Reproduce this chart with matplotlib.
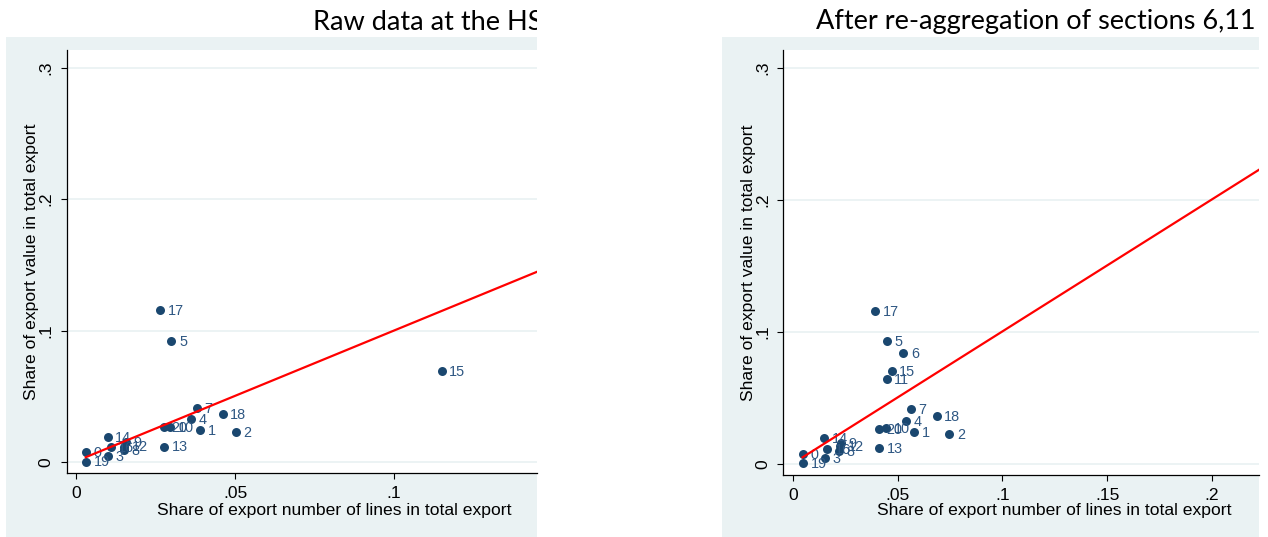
import numpy as np
import matplotlib.pyplot as plt
from matplotlib.patches import Rectangle
from matplotlib.transforms import Bbox, TransformedBbox

# ---------------------------------------------------------------
# Data (x = share of lines, y = share of value)
# ---------------------------------------------------------------
raw_labels = ["0", "19", "14", "16", "3", "8", "12", "9", "20", "10",
              "13", "4", "7", "1", "18", "2", "17", "5", "15"]
raw_lines = [0.0030, 0.0031, 0.0099, 0.0108, 0.0100, 0.0149, 0.0152, 0.0157, 0.0276, 0.0295,
             0.0276, 0.0360, 0.0379, 0.0390, 0.0461, 0.0502, 0.0264, 0.0300, 0.1151]
raw_value = [0.0076, 0.0005, 0.0192, 0.0114, 0.0048, 0.0091, 0.0120, 0.0152, 0.0266, 0.0266,
             0.0119, 0.0329, 0.0410, 0.0245, 0.0365, 0.0228, 0.1157, 0.0924, 0.0696]
raw_fit = [0.0009, 0.9915]      # intercept, slope

agg_labels = ["0", "19", "14", "16", "3", "8", "12", "9", "20", "10",
              "13", "4", "7", "1", "18", "2", "17", "5", "6", "15", "11"]
agg_lines = [0.0046, 0.0049, 0.0149, 0.0164, 0.0151, 0.0218, 0.0224, 0.0229, 0.0411, 0.0444,
             0.0411, 0.0538, 0.0563, 0.0579, 0.0686, 0.0746, 0.0393, 0.0447, 0.0527, 0.0471, 0.0447]
agg_value = [0.0076, 0.0005, 0.0195, 0.0114, 0.0048, 0.0098, 0.0136, 0.0157, 0.0265, 0.0275,
             0.0123, 0.0328, 0.0414, 0.0245, 0.0366, 0.0227, 0.1161, 0.0932, 0.0839, 0.0705, 0.0642]
agg_fit = [0.0005, 1.0]

y_ticks = [0, 0.1, 0.2, 0.3]
y_tick_labels = ["0", ".1", ".2", ".3"]
raw_x_ticks = [0, 0.05, 0.1]
raw_x_tick_labels = ["0", ".05", ".1"]
agg_x_ticks = [0, 0.05, 0.1, 0.15, 0.2]
agg_x_tick_labels = ["0", ".05", ".1", ".15", ".2"]

titles = ["Raw data at the HS", "After re-aggregation of sections 6,11"]
x_title = "Share of export number of lines in total export"
y_title = "Share of export value in total export"

# ---------------------------------------------------------------
# Style
# ---------------------------------------------------------------
W, H = 1268, 537
bg = "#eaf2f3"
navy = "#1a476f"
plt.rcParams['font.family'] = ['Liberation Sans', 'DejaVu Sans']

fig = plt.figure(figsize=(W / 100, H / 100), dpi=100)
fig.patch.set_facecolor("white")


def px_box(x0, y0, x1, y1):
    # pixel box (top-left origin) -> figure fraction rect
    return [x0 / W, 1 - y1 / H, (x1 - x0) / W, (y1 - y0) / H]


# outer graph regions (light bluish gray)
for x0, y0, x1, y1 in [(6, 37, 537, 537), (722, 37, 1259, 537)]:
    r = px_box(x0, y0, x1, y1)
    fig.add_artist(Rectangle((r[0], r[1]), r[2], r[3], transform=fig.transFigure,
                             facecolor=bg, edgecolor="none", zorder=0))

panels = [
    dict(rect=px_box(66.7, 50, 537, 472.7), xlim=(-0.0030, 0.1451), ylim=(-0.0079, 0.3133),
         labels=raw_labels, x=raw_lines, y=raw_value, fit=raw_fit,
         xt=raw_x_ticks, xtl=raw_x_tick_labels, xlab_x=334, ylab_x=31.7),
    dict(rect=px_box(783.3, 50, 1259, 475), xlim=(-0.0046, 0.2224), ylim=(-0.0083, 0.3136),
         labels=agg_labels, x=agg_lines, y=agg_value, fit=agg_fit,
         xt=agg_x_ticks, xtl=agg_x_tick_labels, xlab_x=1054, ylab_x=748),
]

for p in panels:
    ax = fig.add_axes(p["rect"])
    ax.set_facecolor("white")
    ax.set_xlim(p["xlim"])
    ax.set_ylim(p["ylim"])

    # grid lines at y ticks
    for yv in y_ticks:
        ax.axhline(yv, color=bg, lw=1.3, zorder=1)

    ax.scatter(p["x"], p["y"], s=42, color=navy, zorder=3, linewidths=0)
    for lab, xv, yv in zip(p["labels"], p["x"], p["y"]):
        ax.annotate(lab, (xv, yv), xytext=(5.5, -0.6), textcoords="offset points",
                    va="center", ha="left", fontsize=10.4, color="#2e5783", zorder=4)

    # fitted line
    xs = np.array([min(p["x"]), 0.3])
    ax.plot(xs, p["fit"][0] + p["fit"][1] * xs, color="red", lw=1.6, zorder=5)

    ax.spines["top"].set_visible(False)
    ax.spines["right"].set_visible(False)
    ax.spines["left"].set_linewidth(0.9)
    ax.spines["bottom"].set_linewidth(0.9)

    ax.set_xticks(p["xt"])
    ax.set_xticklabels(p["xtl"])
    ax.set_yticks(y_ticks)
    ax.set_yticklabels(y_tick_labels, rotation=90, va="center")
    ax.tick_params(axis="both", direction="out", length=4.5, width=0.8,
                   labelsize=12.6, colors="black")
    ax.tick_params(axis="x", pad=5)
    ax.tick_params(axis="y", pad=5)

    ax.set_xlabel(x_title, fontsize=12.6)
    ax.set_ylabel(y_title, fontsize=12.6)
    # label positions in pixels converted to axes coords
    r = p["rect"]
    ax.xaxis.set_label_coords((p["xlab_x"] / W - r[0]) / r[2], ((1 - 511 / H) - r[1]) / r[3])
    ax.yaxis.set_label_coords((p["ylab_x"] / W - r[0]) / r[2], 0.5)
    ax.xaxis.label.set_va("center")
    ax.yaxis.label.set_va("center")

# slide titles (left one is cut off at the panel edge)
t1 = fig.text(313 / W, 1 - 22 / H, titles[0], fontsize=19.5, family="Lato",
              ha="left", va="center")
t1.set_clip_box(TransformedBbox(Bbox([[0, 0], [537 / W, 1]]), fig.transFigure))
t1.set_clip_on(True)
fig.text(816 / W, 1 - 22 / H, titles[1], fontsize=19.5, family="Lato",
         ha="left", va="center")

plt.savefig("out.png", dpi=100)
